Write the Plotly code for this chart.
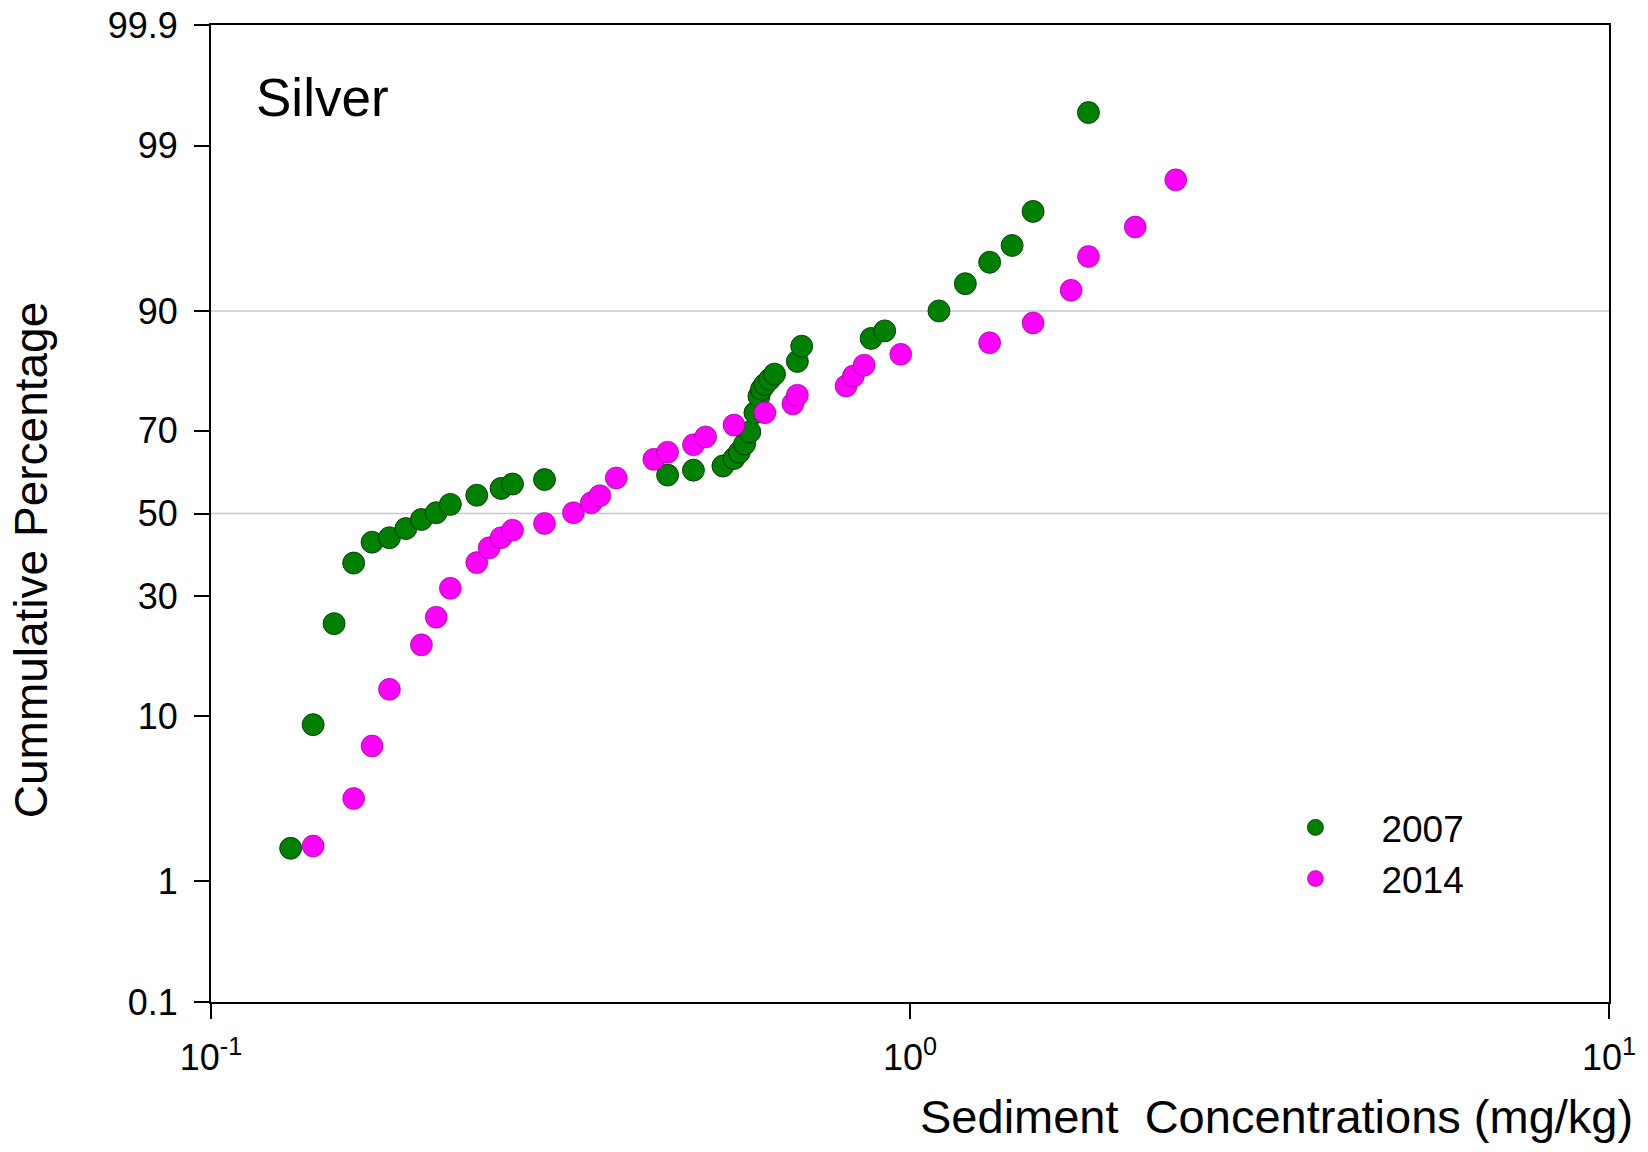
import statistics
import plotly.graph_objects as go

# ---- data ----
conc_2007 = [0.13, 0.14, 0.15, 0.16, 0.17, 0.18, 0.19, 0.20, 0.21, 0.22,
             0.24, 0.26, 0.27, 0.30, 0.45, 0.49, 0.54, 0.56, 0.57, 0.58,
             0.59, 0.60, 0.608, 0.613, 0.62, 0.63, 0.64, 0.69, 0.70, 0.88,
             0.92, 1.10, 1.20, 1.30, 1.40, 1.50, 1.80]
pct_2007 = [1.71, 9.08, 24.3, 37.7, 42.8, 43.9, 46.2, 48.5, 50.2, 52.3,
            54.6, 56.3, 57.4, 58.5, 59.6, 60.8, 61.8, 63.6, 65.1, 67.0,
            69.7, 73.8, 77.1, 78.4, 79.3, 80.2, 81.1, 83.2, 85.5, 86.6,
            87.6, 90.0, 92.7, 94.4, 95.5, 97.2, 99.44]

conc_2014 = [0.14, 0.16, 0.17, 0.18, 0.20, 0.21, 0.22, 0.24, 0.25, 0.26,
             0.27, 0.30, 0.33, 0.35, 0.36, 0.38, 0.43, 0.45, 0.49, 0.51,
             0.56, 0.62, 0.68, 0.69, 0.81, 0.83, 0.86, 0.97, 1.30, 1.50,
             1.70, 1.80, 2.10, 2.40]
pct_2014 = [1.77, 3.57, 7.07, 13.3, 20.3, 25.6, 31.8, 37.8, 41.4, 43.9,
            45.8, 47.5, 50.2, 52.7, 54.5, 58.9, 63.4, 65.1, 66.8, 68.6,
            71.2, 73.8, 75.6, 77.3, 79.0, 80.8, 82.6, 84.3, 86.0, 88.6,
            92.1, 94.8, 96.5, 98.26]

y_ticks_pct = [0.1, 1, 10, 30, 50, 70, 90, 99, 99.9]
y_tick_labels = ["0.1", "1", "10", "30", "50", "70", "90", "99", "99.9"]
x_ticks = [0.1, 1, 10]
x_tick_labels = ["10<sup>-1</sup>", "10<sup>0</sup>", "10<sup>1</sup>"]
grid_pct = [50, 90]

# normal probability scale transform
nd = statistics.NormalDist()
def probit(p):
    return nd.inv_cdf(p / 100.0)

FONT = "Liberation Sans, Arial, sans-serif"

fig = go.Figure()
fig.add_trace(go.Scatter(
    x=conc_2007, y=[probit(p) for p in pct_2007], mode="markers", name="2007",
    marker=dict(size=22, color="#008000", line=dict(color="rgba(0,40,0,0.8)", width=1))))
fig.add_trace(go.Scatter(
    x=conc_2014, y=[probit(p) for p in pct_2014], mode="markers", name="2014",
    marker=dict(size=22, color="#FF00FF", line=dict(color="rgba(90,0,90,0.5)", width=1))))

for g in grid_pct:
    fig.add_shape(type="line", xref="paper", x0=0, x1=1, yref="y",
                  y0=probit(g), y1=probit(g),
                  line=dict(color="#c8c8c8", width=1.5), layer="below")

zmax = probit(99.9)
fig.update_layout(
    width=1648, height=1152,
    margin=dict(l=211, r=39, t=25, b=150, autoexpand=False),
    plot_bgcolor="white", paper_bgcolor="white",
    font=dict(family=FONT, size=36, color="black"),
    showlegend=True,
    legend=dict(x=0.7428, y=0.21, xanchor="left", yanchor="top",
                font=dict(size=37), itemwidth=122, bgcolor="rgba(0,0,0,0)"),
    xaxis=dict(type="log", range=[-1, 1], tickvals=x_ticks, ticktext=x_tick_labels,
               showgrid=False, zeroline=False, showline=True, mirror=True,
               linecolor="black", linewidth=2, ticks="outside", ticklen=15,
               tickwidth=2, tickcolor="black", tickfont=dict(size=36),
               automargin=False, ticklabelstandoff=8),
    yaxis=dict(range=[-zmax, zmax], tickvals=[probit(p) for p in y_ticks_pct],
               ticktext=y_tick_labels, showgrid=False, zeroline=False,
               showline=True, mirror=True, linecolor="black", linewidth=2,
               ticks="outside", ticklen=15, tickwidth=2, tickcolor="black",
               tickfont=dict(size=36), automargin=False, ticklabelstandoff=9),
    annotations=[
        dict(text="Silver", xref="paper", yref="paper", x=0.0305, y=0.926,
             xanchor="left", yanchor="middle", showarrow=False, font=dict(size=53)),
        dict(text="Sediment  Concentrations (mg/kg)", xref="paper", yref="paper",
             x=1.0185, y=-0.1177, xanchor="right", yanchor="middle",
             showarrow=False, font=dict(size=47)),
        dict(text="Cummulative Percentage", xref="paper", yref="paper",
             x=-0.1286, y=0.4524, xanchor="center", yanchor="middle", textangle=-90,
             showarrow=False, font=dict(size=46)),
    ],
)

fig.write_html("out.html")
